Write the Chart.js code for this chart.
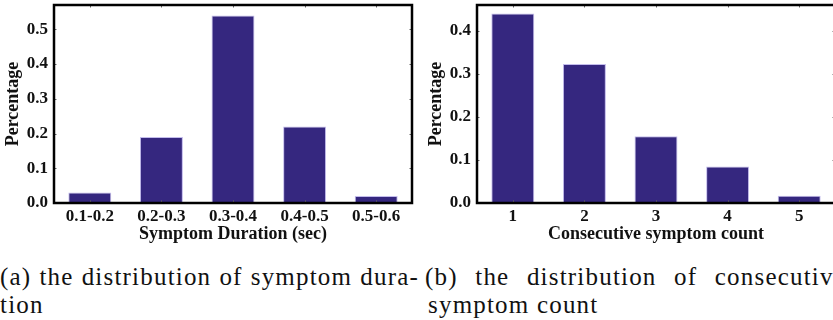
<!DOCTYPE html>
<html>
<head>
<meta charset="utf-8">
<script src="https://cdn.jsdelivr.net/npm/chart.js@4"></script>
<style>
  html, body { margin: 0; padding: 0; background: #fff; }
  body { width: 833px; height: 320px; position: relative; overflow: hidden; }
  canvas { position: absolute; top: 0; }
  #chartDuration { left: 0; }
  #chartCount { left: 423px; }
  .caption {
    position: absolute; top: 263px;
    font-family: 'Liberation Serif', serif;
    font-size: 25px; line-height: 28px; letter-spacing: 1.2px; color: #111;
  }
  .caption .first { text-align: justify; text-align-last: justify; white-space: nowrap; }
  #capA { left: 0; width: 419px; }
  #capB { left: 425px; width: 421px; }
  #capB .second { padding-left: 3px; }
</style>
</head>
<body>
<canvas id="chartDuration" width="416" height="250"></canvas>
<canvas id="chartCount" width="416" height="250"></canvas>
<div class="caption" id="capA"><div class="first">(a) the distribution of symptom dura-</div><div class="second">tion</div></div>
<div class="caption" id="capB"><div class="first">(b) the distribution of consecutive</div><div class="second">symptom count</div></div>
<script>
// symptom duration histogram
var durationLabels = ["0.1-0.2", "0.2-0.3", "0.3-0.4", "0.4-0.5", "0.5-0.6"];
var durationValues = [0.03, 0.19, 0.54, 0.22, 0.02];
var durationMax = 0.57;

// consecutive symptom count histogram
var countLabels = ["1", "2", "3", "4", "5"];
var countValues = [0.44, 0.323, 0.155, 0.085, 0.017];
var countMax = 0.46;

var serif = "'Liberation Serif', serif";
var barColor = '#35277f';
var barEdge = '#c3bcec';

// box around the plot with small inward ticks on all four sides
var framePlugin = {
    id: 'frame',
    afterDraw: function (chart) {
        var a = chart.chartArea, ctx = chart.ctx;
        var x = chart.scales.x, y = chart.scales.y;
        ctx.save();
        ctx.strokeStyle = '#666';
        ctx.lineWidth = 1;
        ctx.beginPath();
        y.ticks.forEach(function (t) {
            var py = Math.round(y.getPixelForValue(t.value)) + 0.5;
            ctx.moveTo(a.left, py); ctx.lineTo(a.left + 2.5, py);
            ctx.moveTo(a.right, py); ctx.lineTo(a.right - 2.5, py);
        });
        x.ticks.forEach(function (t, i) {
            var px = Math.round(x.getPixelForTick(i)) + 0.5;
            ctx.moveTo(px, a.top); ctx.lineTo(px, a.top + 2.5);
            ctx.moveTo(px, a.bottom); ctx.lineTo(px, a.bottom - 2.5);
        });
        ctx.stroke();
        ctx.strokeStyle = '#000';
        ctx.lineWidth = 2.5;
        ctx.strokeRect(a.left, a.top, a.right - a.left, a.bottom - a.top);
        ctx.restore();
    }
};

function makeChart(id, labels, values, yMax, xTitle) {
    return new Chart(document.getElementById(id), {
        type: 'bar',
        data: {
            labels: labels,
            datasets: [{
                data: values,
                backgroundColor: barColor,
                borderColor: barEdge,
                borderWidth: 1,
                barPercentage: 0.6,
                categoryPercentage: 1.0
            }]
        },
        options: {
            responsive: false,
            animation: false,
            layout: { padding: { top: 5, right: 4, bottom: 0, left: 0 } },
            plugins: { legend: { display: false }, tooltip: { enabled: false } },
            scales: {
                x: {
                    grid: { display: false, drawTicks: false },
                    border: { display: false },
                    ticks: {
                        color: '#111', padding: 3, maxRotation: 0,
                        font: { family: serif, size: 17, weight: 'bold' }
                    },
                    title: {
                        display: true, text: xTitle, color: '#111',
                        padding: { top: 0, bottom: 5 },
                        font: { family: serif, size: 18, weight: 'bold' }
                    },
                    afterFit: function (s) {
                        s.height = 47;
                        s.paddingLeft = 0; s.paddingRight = 0;
                    }
                },
                y: {
                    min: 0,
                    max: yMax,
                    grid: { display: false, drawTicks: false },
                    border: { display: false },
                    ticks: {
                        stepSize: 0.1, includeBounds: false, color: '#111', padding: 6,
                        font: { family: serif, size: 17, weight: 'bold' },
                        callback: function (v) { return v.toFixed(1); }
                    },
                    title: {
                        display: true, text: 'Percentage', color: '#111',
                        padding: { top: 2.5, bottom: 0 },
                        font: { family: serif, size: 18, weight: 'bold' }
                    },
                    afterFit: function (s) {
                        s.width = 54;
                        s.paddingTop = 0; s.paddingBottom = 0;
                    }
                }
            }
        },
        plugins: [framePlugin]
    });
}

makeChart('chartDuration', durationLabels, durationValues, durationMax, 'Symptom Duration (sec)');
makeChart('chartCount', countLabels, countValues, countMax, 'Consecutive symptom count');
</script>
</body>
</html>
